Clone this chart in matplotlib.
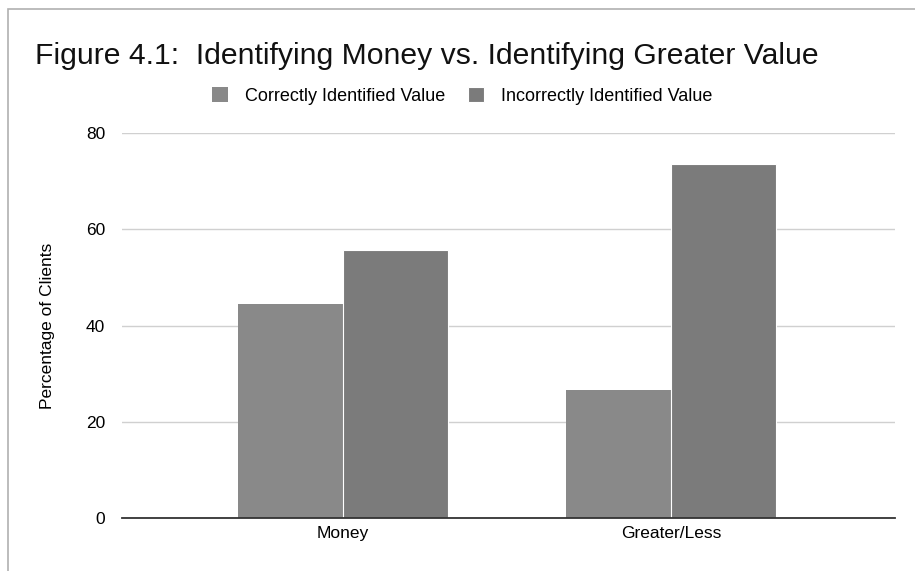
import numpy as np
import matplotlib
matplotlib.use("Agg")
from matplotlib import pyplot as plt
from matplotlib.patches import Rectangle

categories = ["Money", "Greater/Less"]
correct = [44.4, 26.5]
incorrect = [55.6, 73.5]
series_names = ["Correctly Identified Value", "Incorrectly Identified Value"]

plt.rcParams["font.family"] = ["Liberation Sans", "DejaVu Sans"]

fig = plt.figure(figsize=(9.15, 5.71), dpi=100)
fig.patches.append(Rectangle((0.009, -0.1), 1.2, 1.085, transform=fig.transFigure,
                             fill=False, edgecolor="#b0b0b0", linewidth=1.2))

ax = fig.add_axes([0.1333, 0.0928, 0.8447, 0.6742])
x = np.arange(len(categories))
w = 0.32
ax.bar(x - w / 2, correct, width=w, color="#898989", label=series_names[0])
ax.bar(x + w / 2, incorrect, width=w, color="#7b7b7b", label=series_names[1],
       edgecolor="white", linewidth=0.8)

ax.set_xlim(-0.674, 1.683)
ax.set_ylim(0, 80)
ax.set_yticks([0, 20, 40, 60, 80])
ax.set_xticks(x)
ax.set_xticklabels(categories, fontsize=12.5)
ax.tick_params(axis="y", labelsize=12.5, length=0, pad=12)
ax.tick_params(axis="x", length=0, pad=6)
ax.grid(axis="y", color="#d0d0d0", linewidth=1)
ax.set_axisbelow(True)
for s in ["top", "right", "left"]:
    ax.spines[s].set_visible(False)
ax.spines["bottom"].set_color("#333333")
ax.spines["bottom"].set_linewidth(1.3)
ax.set_ylabel("Percentage of Clients", fontsize=12.5, labelpad=22)

fig.text(0.038, 0.902, "Figure 4.1:  Identifying Money vs. Identifying Greater Value",
         fontsize=21.7, va="center", ha="left", color="#111111")
fig.legend(loc="center", bbox_to_anchor=(0.505, 0.832), ncol=2, frameon=False,
           fontsize=13, handlelength=0.9, handleheight=0.9, columnspacing=1.3,
           handletextpad=0.9)

fig.savefig("out.png", dpi=100)
